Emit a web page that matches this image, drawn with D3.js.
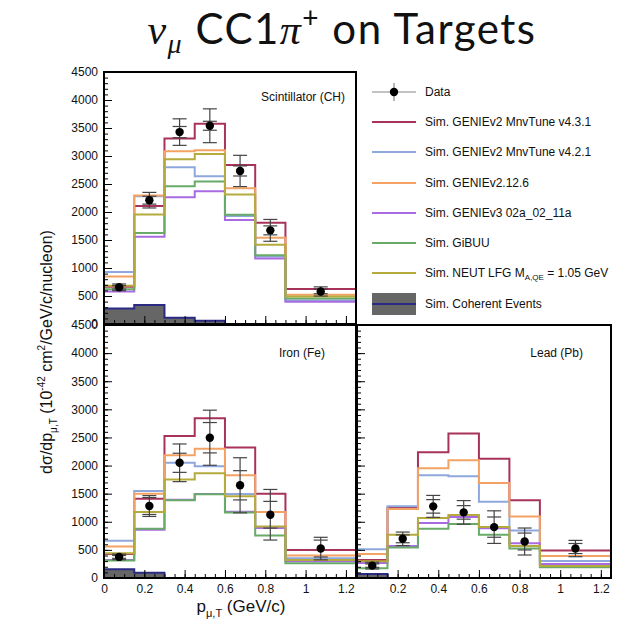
<!DOCTYPE html>
<html>
<head>
<meta charset="utf-8">
<script src="https://cdn.jsdelivr.net/npm/d3@7"></script>
<style>
  body { margin: 0; background: #fff; }
  svg text { font-family: "Liberation Sans", Arial, sans-serif; }
</style>
</head>
<body>
<div id="chart"></div>
<script>
// bins in p_mu,T (GeV/c)
var binEdges = [0, 0.15, 0.3, 0.45, 0.6, 0.75, 0.9, 1.25];
var binCenters = [0.075, 0.225, 0.375, 0.525, 0.675, 0.825, 1.075];

var modelNames = ["Sim. GENIEv2 MnvTune v4.3.1", "Sim. GENIEv2 MnvTune v4.2.1", "Sim. GENIEv2.12.6",
                  "Sim. GENIEv3 02a_02_11a", "Sim. GiBUU", "Sim. NEUT LFG M"];
var modelColors = ["#a8335a", "#8ea8dd", "#f4a263", "#a96be2", "#68aa68", "#b4ab3c"];

// scintillator (CH), one row per model in modelNames order
var chSim = [
  [663, 2105, 3314, 3575, 2840, 1808, 623],
  [930, 2283, 2798, 2638, 1930, 1204, 421],
  [848, 2295, 3083, 3101, 2425, 1541, 522],
  [581, 1559, 2265, 2371, 1856, 1168, 397],
  [622, 1624, 2460, 2544, 1951, 1227, 457],
  [682, 1957, 2941, 3036, 2312, 1417, 492]
];
var chData = [655, 2211, 3427, 3540, 2733, 1672, 581];
var chTotErr = [60, 139, 237, 302, 279, 195, 82];
var chStatErr = [30, 70, 100, 80, 90, 80, 40];
var chCoh = [279, 340, 113, 60, 0, 0, 0];

// iron (Fe)
var feSim = [
  [429, 1411, 2524, 2840, 2322, 1500, 500],
  [661, 1548, 2048, 1988, 1494, 900, 352],
  [559, 1500, 2184, 2298, 1828, 1173, 399],
  [320, 857, 1390, 1495, 1180, 890, 300],
  [310, 875, 1381, 1488, 1167, 756, 262],
  [441, 1173, 1750, 1863, 1452, 917, 321]
];
var feData = [375, 1280, 2049, 2495, 1649, 1125, 524];
var feTotErr = [50, 185, 335, 490, 490, 450, 200];
var feStatErr = [25, 150, 170, 270, 260, 238, 150];
var feCoh = [155, 95, 0, 0, 0, 0, 0];

// lead (Pb)
var pbSim = [
  [321, 1244, 2238, 2572, 2119, 1381, 488],
  [512, 1274, 1828, 1810, 1357, 845, 304],
  [429, 1226, 1952, 2095, 1691, 1095, 393],
  [265, 571, 977, 1084, 887, 619, 250],
  [173, 542, 875, 959, 768, 524, 191],
  [300, 768, 1066, 1119, 905, 571, 214]
];
var pbData = [220, 697, 1274, 1167, 905, 649, 524];
var pbTotErr = [60, 120, 195, 210, 290, 240, 145];
var pbStatErr = [30, 70, 120, 120, 180, 150, 90];
var pbCoh = [71, 0, 0, 0, 0, 0, 0];

var yTicks = [0, 500, 1000, 1500, 2000, 2500, 3000, 3500, 4000, 4500];
var xTicks = [0, 0.2, 0.4, 0.6, 0.8, 1, 1.2];

var width = 633, height = 631;
var svg = d3.select("#chart").append("svg")
  .attr("width", width)
  .attr("height", height);

// title
var title = svg.append("text")
  .attr("x", 342).attr("y", 44)
  .attr("text-anchor", "middle")
  .style("font-family", "Lato, 'Open Sans', sans-serif")
  .style("font-size", "42px")
  .style("letter-spacing", "1.5px")
  .style("fill", "#111");
title.append("tspan").text("ν").style("font-family", "'Liberation Serif', serif").style("font-style", "italic");
title.append("tspan").text("μ").attr("dy", 9).style("font-size", "28px")
  .style("font-family", "'Liberation Serif', serif").style("font-style", "italic");
title.append("tspan").text(" CC1").attr("dy", -9);
title.append("tspan").text("π").style("font-family", "'Liberation Serif', serif").style("font-style", "italic");
title.append("tspan").text("+").attr("dy", -16).style("font-size", "28px");
title.append("tspan").text(" on Targets").attr("dy", 16);

var panels = [
  {id: "ch", x0: 104, x1: 356, y0: 72, y1: 324, sim: chSim, data: chData, tot: chTotErr, stat: chStatErr, coh: chCoh,
   label: "Scintillator (CH)", labelX: 345, labelY: 101, yLabels: true, xLabels: false},
  {id: "fe", x0: 104, x1: 356, y0: 325, y1: 578, sim: feSim, data: feData, tot: feTotErr, stat: feStatErr, coh: feCoh,
   label: "Iron (Fe)", labelX: 325, labelY: 357, yLabels: true, xLabels: true},
  {id: "pb", x0: 357, x1: 611, y0: 325, y1: 578, sim: pbSim, data: pbData, tot: pbTotErr, stat: pbStatErr, coh: pbCoh,
   label: "Lead (Pb)", labelX: 583, labelY: 357, yLabels: false, xLabels: true}
];

panels.forEach(function(p) {
  var x = d3.scaleLinear().domain([0, 1.25]).range([p.x0, p.x1]);
  var y = d3.scaleLinear().domain([0, 4500]).range([p.y1, p.y0]);

  var g = svg.append("g");
  g.append("clipPath").attr("id", "clip-" + p.id)
    .append("rect").attr("x", p.x0).attr("y", p.y0)
    .attr("width", p.x1 - p.x0).attr("height", p.y1 - p.y0);
  var plot = g.append("g").attr("clip-path", "url(#clip-" + p.id + ")");

  function stepPts(vals) {
    return binEdges.map(function(e, i) { return [e, vals[Math.min(i, vals.length - 1)]]; });
  }
  var line = d3.line().curve(d3.curveStepAfter)
    .x(function(d) { return x(d[0]); })
    .y(function(d) { return y(d[1]); });
  var area = d3.area().curve(d3.curveStepAfter)
    .x(function(d) { return x(d[0]); })
    .y0(y(0))
    .y1(function(d) { return y(d[1]); });

  // coherent
  plot.append("path").attr("d", area(stepPts(p.coh))).attr("fill", "#666666");
  plot.append("path").attr("d", line(stepPts(p.coh)))
    .attr("fill", "none").attr("stroke", "#2a2a85").attr("stroke-width", 2);

  // models
  p.sim.forEach(function(vals, k) {
    plot.append("path")
      .attr("d", line(stepPts(vals)))
      .attr("fill", "none")
      .attr("stroke", modelColors[k])
      .attr("stroke-width", 2);
  });

  // data error bars
  var dg = plot.append("g").attr("stroke", "#444").attr("stroke-width", 1.2);
  p.data.forEach(function(v, i) {
    var cx = x(binCenters[i]);
    dg.append("line").attr("x1", cx).attr("x2", cx)
      .attr("y1", y(v + p.tot[i])).attr("y2", y(v - p.tot[i]));
    [v + p.tot[i], v - p.tot[i], v + p.stat[i], v - p.stat[i]].forEach(function(e) {
      dg.append("line").attr("x1", cx - 7).attr("x2", cx + 7)
        .attr("y1", y(e)).attr("y2", y(e));
    });
  });
  plot.selectAll("circle.pt").data(p.data).enter().append("circle")
    .attr("class", "pt")
    .attr("cx", function(d, i) { return x(binCenters[i]); })
    .attr("cy", function(d) { return y(d); })
    .attr("r", 4.2)
    .attr("fill", "#000");

  // axes, ticks inward
  var yMinor = g.append("g").attr("transform", "translate(" + p.x0 + ",0)")
    .call(d3.axisLeft(y).tickValues(d3.range(0, 4501, 100)).tickSize(-4).tickFormat(""));
  var yMajor = g.append("g").attr("transform", "translate(" + p.x0 + ",0)")
    .call(d3.axisLeft(y).tickValues(yTicks).tickSize(-8).tickPadding(6)
      .tickFormat(p.yLabels ? d3.format("d") : ""));
  var xMinor = g.append("g").attr("transform", "translate(0," + p.y1 + ")")
    .call(d3.axisBottom(x).tickValues(d3.range(0, 1.251, 0.05)).tickSize(-4).tickFormat(""));
  var xMajor = g.append("g").attr("transform", "translate(0," + p.y1 + ")")
    .call(d3.axisBottom(x).tickValues(xTicks).tickSize(-8).tickPadding(6)
      .tickFormat(function(d) { return (p.xLabels && !(p.id == "pb" && d == 0)) ? d3.format("")(d) : ""; }));
  [yMinor, yMajor, xMinor, xMajor].forEach(function(a) {
    a.select(".domain").remove();
    a.selectAll("line").attr("stroke", "#000").attr("stroke-width", 1);
    a.selectAll("text").style("font-family", "'Liberation Sans', Arial, sans-serif")
      .style("font-size", "12px").attr("fill", "#111");
  });

  g.append("rect").attr("x", p.x0).attr("y", p.y0)
    .attr("width", p.x1 - p.x0).attr("height", p.y1 - p.y0)
    .attr("fill", "none").attr("stroke", "#000").attr("stroke-width", 2);

  g.append("text").attr("x", p.labelX).attr("y", p.labelY)
    .attr("text-anchor", "end").style("font-size", "12px").attr("fill", "#111")
    .text(p.label);
});

// axis titles
var yt = svg.append("text")
  .attr("transform", "translate(52,352) rotate(-90)")
  .attr("text-anchor", "middle")
  .style("font-size", "16px").attr("fill", "#111");
yt.append("tspan").text("dσ/dp");
yt.append("tspan").text("μ,T").attr("dy", 5).style("font-size", "10px");
yt.append("tspan").text(" (10").attr("dy", -5);
yt.append("tspan").text("-42").attr("dy", -7).style("font-size", "10px");
yt.append("tspan").text(" cm").attr("dy", 7);
yt.append("tspan").text("2").attr("dy", -7).style("font-size", "10px");
yt.append("tspan").text("/GeV/c/nucleon)").attr("dy", 7);

var xt = svg.append("text")
  .attr("x", 241).attr("y", 612)
  .attr("text-anchor", "middle")
  .style("font-size", "17px").attr("fill", "#111");
xt.append("tspan").text("p");
xt.append("tspan").text("μ,T").attr("dy", 5).style("font-size", "11px");
xt.append("tspan").text(" (GeV/c)").attr("dy", -5);

// legend
var legX0 = 372, legX1 = 416, legText = 425;
var legY = [92, 122, 152, 183, 213, 243, 273, 304];
var leg = svg.append("g");
leg.append("line").attr("x1", legX0).attr("x2", legX1).attr("y1", legY[0]).attr("y2", legY[0])
  .attr("stroke", "#888").attr("stroke-width", 1.2);
leg.append("line").attr("x1", (legX0 + legX1) / 2).attr("x2", (legX0 + legX1) / 2)
  .attr("y1", legY[0] - 9).attr("y2", legY[0] + 9).attr("stroke", "#888").attr("stroke-width", 1.2);
leg.append("circle").attr("cx", (legX0 + legX1) / 2).attr("cy", legY[0]).attr("r", 4.2).attr("fill", "#000");
leg.append("text").attr("x", legText).attr("y", legY[0] + 4).style("font-size", "12px").attr("fill", "#111").text("Data");

modelNames.forEach(function(name, k) {
  var yy = legY[k + 1];
  leg.append("line").attr("x1", legX0).attr("x2", legX1).attr("y1", yy).attr("y2", yy)
    .attr("stroke", modelColors[k]).attr("stroke-width", 2);
  var t = leg.append("text").attr("x", legText).attr("y", yy + 4).style("font-size", "12px").attr("fill", "#111");
  t.append("tspan").text(name);
  if (k == 5) {
    t.append("tspan").text("A,QE").attr("dy", 3).style("font-size", "8px");
    t.append("tspan").text(" = 1.05 GeV").attr("dy", -3);
  }
});
leg.append("rect").attr("x", legX0).attr("y", legY[7] - 11).attr("width", legX1 - legX0).attr("height", 22)
  .attr("fill", "#666666");
leg.append("line").attr("x1", legX0).attr("x2", legX1).attr("y1", legY[7]).attr("y2", legY[7])
  .attr("stroke", "#2a2a85").attr("stroke-width", 2);
leg.append("text").attr("x", legText).attr("y", legY[7] + 4).style("font-size", "12px").attr("fill", "#111")
  .text("Sim. Coherent Events");
</script>
</body>
</html>
